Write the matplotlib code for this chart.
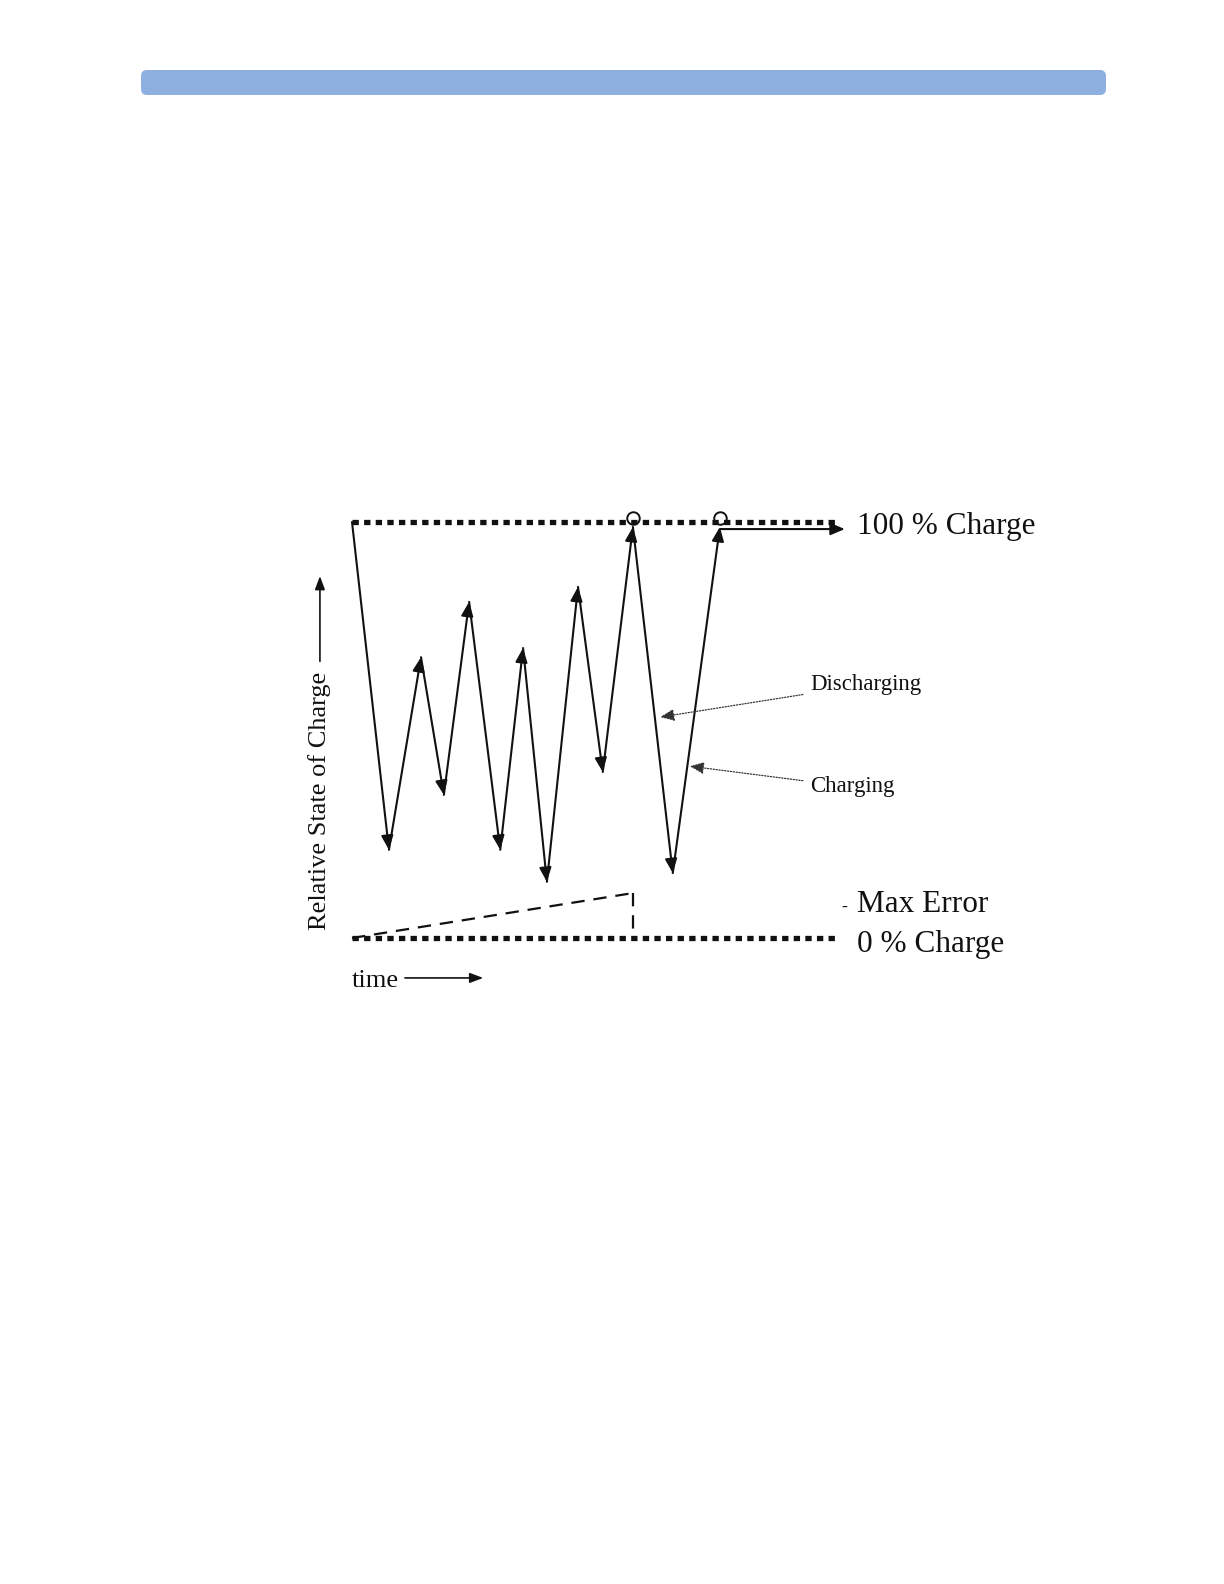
import matplotlib.pyplot as plt
from matplotlib.patches import FancyBboxPatch

# zigzag: time (0..100) vs relative state of charge (%)
t_points = [0, 7.6, 14.2, 18.9, 24.1, 30.5, 35.2, 40.1, 46.5, 51.6, 57.8, 66.0, 75.7]
soc_points = [100, 21.2, 67.5, 34.4, 80.8, 21.2, 69.7, 13.5, 84.4, 39.9, 98.8, 15.6, 98.8]

full_t = [0, 100]
full_soc = [100, 100]
empty_soc = [0, 0]

err_t = [0, 57.8]
err_soc = [0, 10.8]

circle_t = [57.8, 75.7]
circle_soc = [101.0, 101.0]
hold_t = [75.7, 101.4]

plt.rcParams["font.family"] = ["Liberation Serif", "DejaVu Serif"]

fig = plt.figure(figsize=(12.24, 15.84), dpi=100)

# page decoration: blue header bar (pixel coords)
bg = fig.add_axes([0, 0, 1, 1])
bg.set_xlim(0, 1224)
bg.set_ylim(1584, 0)
bg.axis("off")
bg.add_patch(FancyBboxPatch((141, 70), 965, 25, boxstyle="round,pad=0,rounding_size=6",
                            facecolor="#8DB0E0", edgecolor="none"))

ax = fig.add_axes([352 / 1224, 1 - 938 / 1584, 486 / 1224, 416 / 1584])
ax.set_xlim(0, 100)
ax.set_ylim(0, 100)
ax.axis("off")

ink = "#111111"
head = "-|>,head_length=0.85,head_width=0.36"

dot = dict(color=ink, linewidth=3.8, linestyle=(0, (1.2, 1.0)), dash_capstyle="butt", clip_on=False)
ax.plot(full_t, full_soc, **dot)
ax.plot(full_t, empty_soc, **dot)

# max error drift
ax.plot(err_t, err_soc, color=ink, linewidth=1.6, linestyle=(0, (6, 4)), clip_on=False)
ax.plot([err_t[1], err_t[1]], [err_soc[1], 0], color=ink, linewidth=1.6,
        linestyle=(0, (6, 4)), clip_on=False)

# charge / discharge segments
for i in range(len(t_points) - 1):
    ax.annotate("", xy=(t_points[i + 1], soc_points[i + 1]), xytext=(t_points[i], soc_points[i]),
                arrowprops=dict(arrowstyle=head, color=ink, lw=1.5, shrinkA=0, shrinkB=0,
                                mutation_scale=10),
                annotation_clip=False)

ax.plot(circle_t, circle_soc, linestyle="none", marker="o", markersize=9, markerfacecolor="none",
        markeredgecolor=ink, markeredgewidth=1.4, clip_on=False)

ax.annotate("", xy=(hold_t[1], 98.3), xytext=(hold_t[0], 98.3),
            arrowprops=dict(arrowstyle=head, color=ink, lw=1.5, shrinkA=0, shrinkB=0,
                            mutation_scale=10),
            annotation_clip=False)

# labels
ax.text(103.9, 99.0, "100 % Charge", fontsize=22.5, va="center", ha="left", color=ink)
ax.text(103.9, 8.1, "Max Error", fontsize=22.5, va="center", ha="left", color=ink)
ax.text(100.6, 7.4, "-", fontsize=13, va="center", ha="left", color=ink)
ax.text(103.9, -1.5, "0 % Charge", fontsize=22.5, va="center", ha="left", color=ink)

note = dict(arrowstyle=head, color="#333333", lw=0.9, linestyle=(0, (1, 1.3)),
            shrinkA=3, shrinkB=0, mutation_scale=10)
ax.annotate("Discharging", xy=(63.4, 53.1), xytext=(94.2, 60.9), fontsize=16.5, va="center",
            ha="left", color=ink, arrowprops=note, annotation_clip=False)
ax.annotate("Charging", xy=(69.5, 41.3), xytext=(94.2, 36.3), fontsize=16.5, va="center",
            ha="left", color=ink, arrowprops=note, annotation_clip=False)

# axis captions
ax.text(-6.7, 33.0, "Relative State of Charge", fontsize=19, rotation=90, va="center",
        ha="center", color=ink)
ax.annotate("", xy=(-6.6, 87.0), xytext=(-6.6, 66.5),
            arrowprops=dict(arrowstyle="-|>,head_length=0.8,head_width=0.3", color=ink, lw=1.2,
                            shrinkA=0, shrinkB=0, mutation_scale=10),
            annotation_clip=False)
ax.text(0, -10.3, "time", fontsize=19, va="center", ha="left", color=ink)
ax.annotate("", xy=(27.0, -9.6), xytext=(10.9, -9.6),
            arrowprops=dict(arrowstyle="-|>,head_length=0.8,head_width=0.3", color=ink, lw=1.2,
                            shrinkA=0, shrinkB=0, mutation_scale=10),
            annotation_clip=False)

fig.savefig("out.png", dpi=100, facecolor="white")
